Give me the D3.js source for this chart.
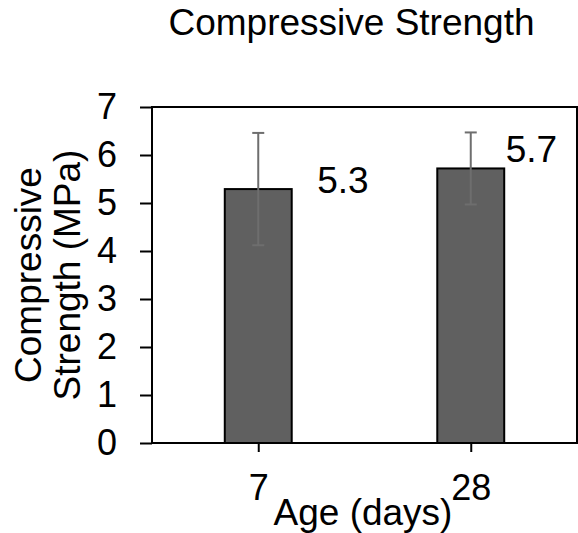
<!DOCTYPE html>
<html>
<head>
<meta charset="utf-8">
<script src="https://cdn.jsdelivr.net/npm/d3@7"></script>
<style>
  html, body { margin: 0; padding: 0; background: #fff; }
  svg { display: block; font-family: Arial, "Liberation Sans", sans-serif; }
</style>
</head>
<body>
<svg id="chart" width="578" height="533"></svg>
<script>
// ---- data ----
const categories = ["7", "28"];
const values = [5.29, 5.72];
const errors = [1.17, 0.75];
const valueLabels = ["5.3", "5.7"];
const yTicks = [0, 1, 2, 3, 4, 5, 6, 7];
const titleText = "Compressive Strength";
const xTitle = "Age (days)";
const yTitleLines = ["Compressive", "Strength (MPa)"];

// ---- layout ----
const W = 578, H = 533;
const plot = { left: 152, right: 577, top: 107, bottom: 443 };
const fontSize = 37;
const tickFont = 36;
const labelOffsets = [{ dx: 59, dy: 4 }, { dx: 35, dy: -6 }];

const svg = d3.select("#chart");

const x = d3.scalePoint().domain(categories).range([plot.left, plot.right]).padding(0.5);
const barW = x.step() * 0.315;
const y = d3.scaleLinear().domain([0, 7]).range([plot.bottom, plot.top]);

// title
svg.append("text")
  .attr("x", 351.5).attr("y", 35)
  .attr("text-anchor", "middle")
  .attr("font-size", fontSize)
  .attr("fill", "#000")
  .text(titleText);

// bars
svg.selectAll("rect.bar").data(categories).enter().append("rect")
  .attr("class", "bar")
  .attr("x", d => x(d) - barW / 2)
  .attr("y", (d, i) => y(values[i]))
  .attr("width", barW)
  .attr("height", (d, i) => y(0) - y(values[i]))
  .attr("fill", "#606060")
  .attr("stroke", "#000")
  .attr("stroke-width", 2);

// error bars
const eb = svg.append("g").attr("stroke", "#6e6e6e").attr("stroke-width", 2);
categories.forEach((c, i) => {
  const cx = x(c);
  const hi = y(values[i] + errors[i]);
  const lo = y(values[i] - errors[i]);
  eb.append("line").attr("x1", cx).attr("x2", cx).attr("y1", hi).attr("y2", lo);
  eb.append("line").attr("x1", cx - 6).attr("x2", cx + 6).attr("y1", hi).attr("y2", hi);
  eb.append("line").attr("x1", cx - 6).attr("x2", cx + 6).attr("y1", lo).attr("y2", lo);
});

// plot frame
svg.append("rect")
  .attr("x", plot.left).attr("y", plot.top)
  .attr("width", plot.right - plot.left).attr("height", plot.bottom - plot.top)
  .attr("fill", "none").attr("stroke", "#000").attr("stroke-width", 2);

// y axis
const yAxis = d3.axisLeft(y).tickValues(yTicks).tickSize(12).tickPadding(23).tickFormat(d3.format("d"));
const gy = svg.append("g").attr("transform", `translate(${plot.left},0)`).call(yAxis);
gy.select(".domain").remove();
gy.selectAll(".tick line").attr("stroke", "#000").attr("stroke-width", 2);
gy.selectAll(".tick text").attr("font-size", tickFont).attr("font-family", "Arial, 'Liberation Sans', sans-serif").attr("fill", "#000");

// x axis
const xAxis = d3.axisBottom(x).tickSize(9).tickPadding(0);
const gx = svg.append("g").attr("transform", `translate(0,${plot.bottom})`).call(xAxis);
gx.select(".domain").remove();
gx.selectAll(".tick line").attr("stroke", "#000").attr("stroke-width", 2);
gx.selectAll(".tick text")
  .attr("font-size", tickFont)
  .attr("font-family", "Arial, 'Liberation Sans', sans-serif")
  .attr("fill", "#000")
  .attr("dy", null)
  .attr("y", 57);

// value labels
svg.selectAll("text.vlabel").data(categories).enter().append("text")
  .attr("class", "vlabel")
  .attr("x", (d, i) => x(d) + labelOffsets[i].dx)
  .attr("y", (d, i) => y(values[i]) + labelOffsets[i].dy)
  .attr("font-size", fontSize)
  .attr("fill", "#000")
  .text((d, i) => valueLabels[i]);

// x title
svg.append("text")
  .attr("x", 363).attr("y", 525)
  .attr("text-anchor", "middle")
  .attr("font-size", fontSize)
  .attr("fill", "#000")
  .text(xTitle);

// y title (two lines, rotated)
const yt = svg.append("text")
  .attr("transform", `translate(0,275) rotate(-90)`)
  .attr("text-anchor", "middle")
  .attr("font-size", fontSize)
  .attr("fill", "#000");
yTitleLines.forEach((l, i) => {
  yt.append("tspan").attr("x", 0).attr("y", 41 + i * 39).text(l);
});
</script>
</body>
</html>
